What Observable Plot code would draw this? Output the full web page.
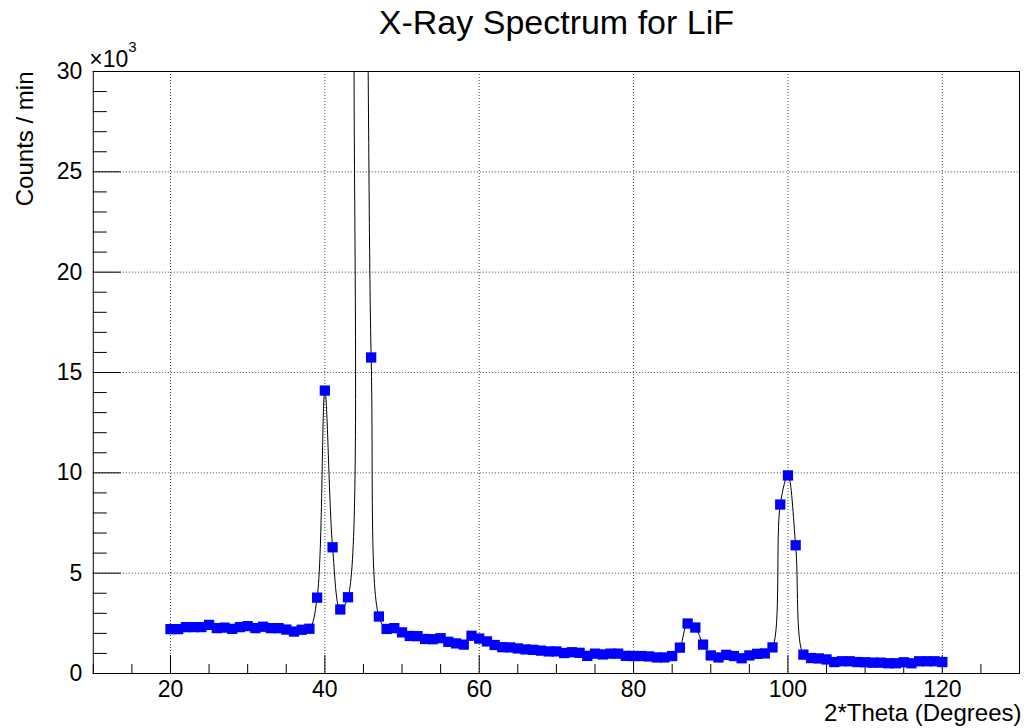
<!DOCTYPE html>
<html><head><meta charset="utf-8">
<script src="https://cdn.jsdelivr.net/npm/d3@7"></script>
<script src="https://cdn.jsdelivr.net/npm/@observablehq/plot@0.6"></script>
<style>body{margin:0;background:#fff;}</style>
</head><body><div id="chart"></div>
<script>
const theta = [20,21,22,23,24,25,26,27,28,29,30,31,32,33,34,35,36,37,38,39,
  40,41,42,43,44,45,46,47,48,49,50,51,52,53,54,55,56,57,58,59,
  60,61,62,63,64,65,66,67,68,69,70,71,72,73,74,75,76,77,78,79,
  80,81,82,83,84,85,86,87,88,89,90,91,92,93,94,95,96,97,98,99,
  100,101,102,103,104,105,106,107,108,109,110,111,112,113,114,115,116,117,118,119,120];
const counts = [2210,2210,2310,2310,2310,2420,2260,2290,2220,2310,2360,2260,2330,2260,2260,2190,2090,2180,2230,3780,
  14100,6290,3190,3800,36000,40000,15750,2840,2220,2260,2050,1870,1860,1720,1710,1760,1580,1500,1440,1880,
  1740,1600,1420,1310,1300,1250,1200,1180,1140,1100,1100,1020,1060,1030,880,990,950,990,990,880,
  870,870,850,800,800,870,1290,2490,2290,1440,900,800,930,870,760,900,980,1000,1300,8420,
  9870,6390,940,770,750,700,570,610,610,570,560,540,540,510,510,560,510,610,610,610,570];
const xMajorTicks = [20,40,60,80,100,120];
const xMinorTicks = [10,15,25,30,35,45,50,55,65,70,75,85,90,95,105,110,115,125,130];
const yMajorTicks = [0,5000,10000,15000,20000,25000,30000];
const yTickLabels = ["0","5","10","15","20","25","30"];
const yMinorTicks = [1000,2000,3000,4000,6000,7000,8000,9000,11000,12000,13000,14000,16000,17000,18000,19000,21000,22000,23000,24000,26000,27000,28000,29000];
const titleText = "X-Ray Spectrum for LiF";
const xTitle = "2*Theta (Degrees)";
const yTitle = "Counts / min";
const yExponentBase = "×10";
const yExponentPower = "3";

const data = theta.map((t, i) => ({theta: t, counts: counts[i]}));
const W = 1031, H = 728, mL = 92.8, mR = 12, mT = 71, mB = 55;
const fw = W - mL - mR, fh = H - mT - mB;
const gridStyle = {stroke: "#000", strokeOpacity: 0.75, strokeDasharray: "1,2", strokeWidth: 1};

const chart = Plot.plot({
  width: W, height: H,
  marginLeft: mL, marginRight: mR, marginTop: mT, marginBottom: mB,
  style: {fontFamily: "'Liberation Sans', Arial, Helvetica, sans-serif", background: "#fff", color: "#000"},
  x: {domain: [10, 130], axis: null},
  y: {domain: [0, 30000], axis: null},
  marks: [
    Plot.gridX(xMajorTicks, gridStyle),
    Plot.gridY(yMajorTicks, gridStyle),
    Plot.tickX(xMajorTicks, {x: d => d, insetTop: fh - 18, stroke: "#000"}),
    Plot.tickX(xMinorTicks, {x: d => d, insetTop: fh - 9, stroke: "#000"}),
    Plot.tickY(yMajorTicks, {y: d => d, insetRight: fw - 28, stroke: "#000"}),
    Plot.tickY(yMinorTicks, {y: d => d, insetRight: fw - 14, stroke: "#000"}),
    Plot.frame({stroke: "#000"}),
    Plot.axisX(xMajorTicks, {tickSize: 0, tickPadding: 7, fontSize: 23, label: null}),
    Plot.axisY(yMajorTicks, {tickSize: 0, tickPadding: 11, fontSize: 23, label: null,
      tickFormat: d => yTickLabels[yMajorTicks.indexOf(d)]}),
    Plot.line(data, {x: "theta", y: "counts", curve: "catmull-rom", stroke: "#000", strokeWidth: 1, clip: true}),
    Plot.dot(data, {x: "theta", y: "counts", symbol: "square", r: 5.8, fill: "#0000ff", clip: true}),
    Plot.text([titleText], {frameAnchor: "top", dy: -62, fontSize: 34}),
    Plot.text([yExponentBase], {frameAnchor: "top-left", textAnchor: "start", dx: -4, dy: -21, fontSize: 23}),
    Plot.text([yExponentPower], {frameAnchor: "top-left", textAnchor: "start", dx: 35, dy: -30, fontSize: 15}),
    Plot.text([yTitle], {frameAnchor: "top-left", rotate: -90, textAnchor: "end", dx: -77, fontSize: 24}),
    Plot.text([xTitle], {frameAnchor: "bottom-right", textAnchor: "end", dx: 2, dy: 47, fontSize: 24})
  ]
});
document.getElementById("chart").appendChild(chart);
</script>
</body></html>
